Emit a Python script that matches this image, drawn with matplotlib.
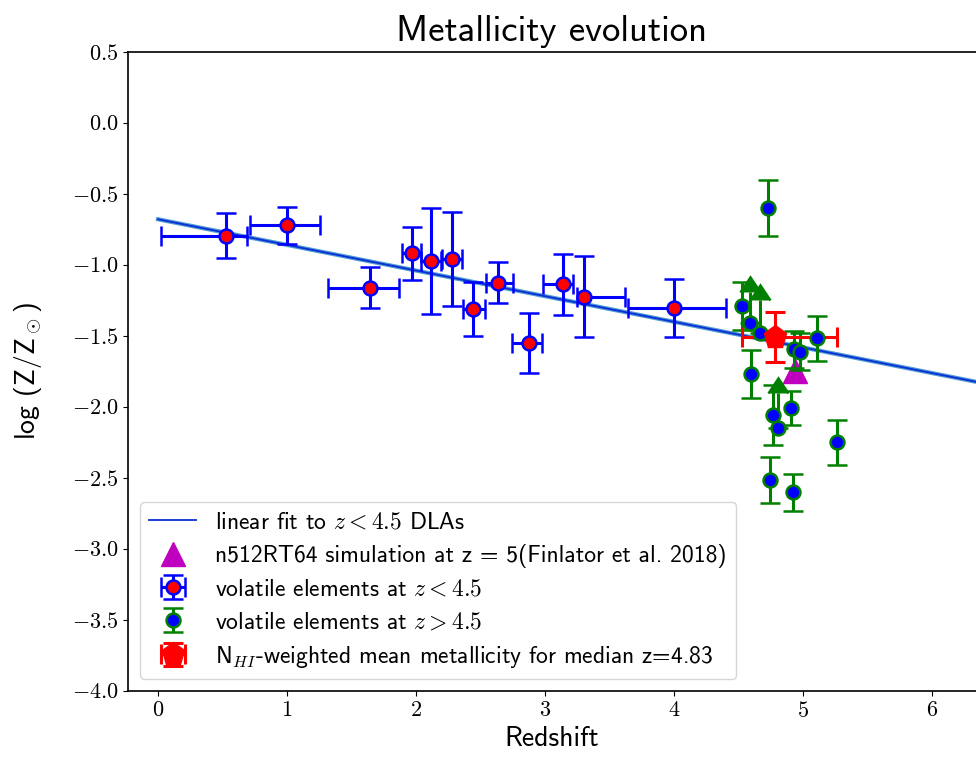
import numpy as np
import matplotlib
matplotlib.use('Agg')
import matplotlib.pyplot as plt

plt.rcParams['font.family'] = ['cmss10', 'DejaVu Sans']
plt.rcParams['mathtext.fontset'] = 'cm'
plt.rcParams['axes.formatter.use_mathtext'] = True
plt.rcParams['axes.unicode_minus'] = True

# volatile elements, z < 4.5
z_lo = [0.525, 1.0, 1.643, 1.969, 2.116, 2.277, 2.444, 2.638, 2.876, 3.137, 3.305, 4.0]
met_lo = [-0.794, -0.72, -1.16, -0.918, -0.972, -0.96, -1.31, -1.124, -1.551, -1.136, -1.223, -1.305]
met_lo_err = [0.16, 0.13, 0.145, 0.185, 0.37, 0.33, 0.19, 0.145, 0.21, 0.215, 0.285, 0.205]
z_lo_err_minus = [0.505, 0.287, 0.323, 0.08, 0.076, 0.077, 0.077, 0.095, 0.129, 0.15, 0.06, 0.354]
z_lo_err_plus = [0.165, 0.258, 0.227, 0.067, 0.074, 0.083, 0.091, 0.111, 0.104, 0.083, 0.315, 0.40]

# volatile elements, z > 4.5
z_hi = [4.729, 4.525, 4.594, 4.93, 4.977, 5.105, 4.764, 4.907, 5.261, 4.744, 4.92]
met_hi = [-0.599, -1.289, -1.768, -1.595, -1.61, -1.517, -2.056, -2.009, -2.249, -2.514, -2.601]
met_hi_err = [0.20, 0.17, 0.17, 0.13, 0.13, 0.16, 0.21, 0.12, 0.16, 0.16, 0.13]

# lower limits at z > 4.5
z_lim = [4.589, 4.667, 4.804]
met_lim = [-1.411, -1.477, -2.15]
met_lim_len = [0.22, 0.23, 0.25]

# N_HI weighted mean
z_mean = [4.785]
met_mean = [-1.509]
z_mean_err = [[0.26], [0.475]]
met_mean_err = [0.177]

# simulation
z_sim = [4.94]
met_sim = [-1.745]

# linear fit to z < 4.5
fit_slope = -0.1805
fit_intercept = -0.678

fig = plt.figure(figsize=(9.76, 7.65), dpi=100)
ax = fig.add_axes([128 / 976, 1 - 691 / 765, 848 / 976, 639 / 765])

zf = np.linspace(0, 7, 50)
ax.plot(zf, fit_intercept + fit_slope * zf, color='#4f9bd0', lw=3.0, zorder=1)
ax.plot(zf, fit_intercept + fit_slope * zf, color='#0a2fd8', lw=1.3, zorder=1.1,
        label=r'linear fit to $z<4.5$ DLAs')
ax.plot(z_sim, met_sim, 'm^', markersize=17, label='n512RT64 simulation at z = 5(Finlator et al. 2018)')

eb = dict(elinewidth=2.2, capsize=7, capthick=2.2, markersize=10, markeredgewidth=1.8)
ax.errorbar(z_lo, met_lo, yerr=met_lo_err, xerr=[z_lo_err_minus, z_lo_err_plus], fmt='o',
            color='b', ecolor='b', mfc='r', mec='b', label=r'volatile elements at $z<4.5$', **eb)
ax.errorbar(z_hi, met_hi, yerr=met_hi_err, fmt='o', color='g', ecolor='g', mfc='b', mec='g',
            label=r'volatile elements at $z>4.5$', **eb)
ax.errorbar(z_lim, met_lim, yerr=met_lim_len, lolims=True, fmt='o', color='g', ecolor='g',
            mfc='b', mec='g', **eb)
ax.errorbar(z_mean, met_mean, yerr=met_mean_err, xerr=z_mean_err, fmt='p', color='r', ecolor='r',
            elinewidth=2.2, capsize=7, capthick=2.2, markersize=17,
            label=r'N$_{HI}$-weighted mean metallicity for median z=4.83')

ax.set_xlim(-0.233, 6.341)
ax.set_ylim(-4.0, 0.5)
ax.set_yticks(np.arange(-4.0, 0.51, 0.5))
ax.set_xticks(range(0, 7))
ax.yaxis.set_major_formatter(matplotlib.ticker.FuncFormatter(lambda v, p: r'$%.1f$' % v))
ax.xaxis.set_major_formatter(matplotlib.ticker.FuncFormatter(lambda v, p: r'$%d$' % v))
ax.tick_params(labelsize=16)
ax.spines['right'].set_visible(False)
for s in ['left', 'bottom', 'top']:
    ax.spines[s].set_linewidth(1.2)

ax.set_title('Metallicity evolution', fontsize=26.5, pad=8)
ax.set_xlabel('Redshift', fontsize=20)
ax.set_ylabel(r'log (Z/Z$_\odot$)', fontsize=20, labelpad=20)
ax.legend(loc='lower left', fontsize=17, handlelength=2.0, borderpad=0.4, labelspacing=0.45)

fig.savefig('out.png', dpi=100)
